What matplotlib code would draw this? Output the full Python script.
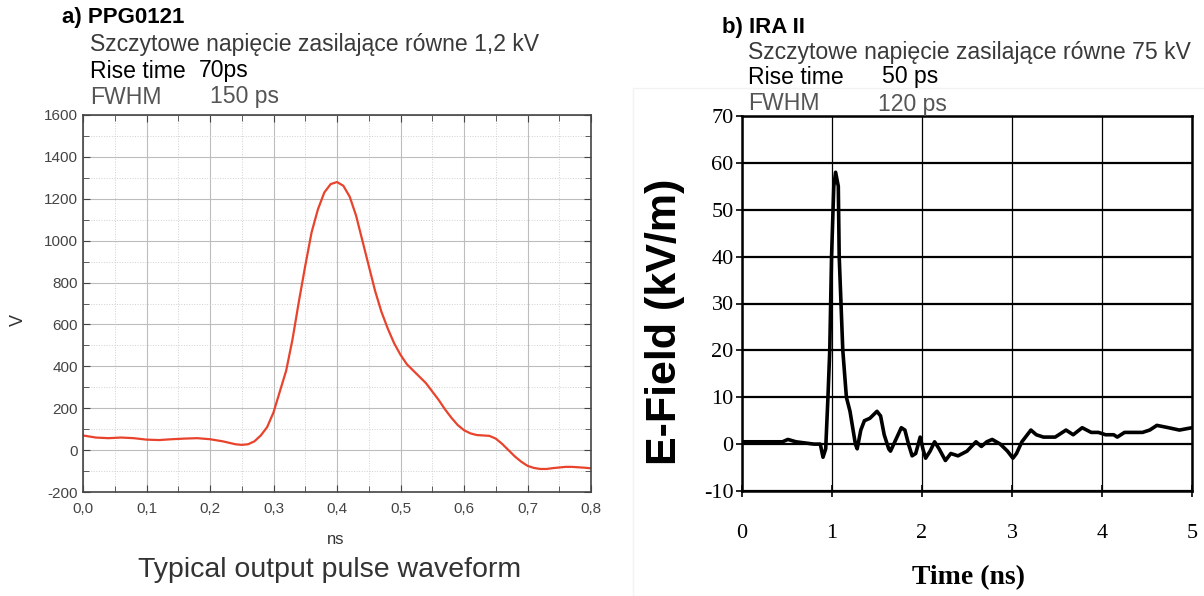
import matplotlib
matplotlib.use('Agg')
from matplotlib import pyplot as plt
from matplotlib.patches import Rectangle
from matplotlib.ticker import MultipleLocator, FuncFormatter

# a) PPG0121 - przebieg impulsu (ns, V)
ppg_t = [0.00, 0.02, 0.04, 0.06, 0.08, 0.10, 0.12, 0.14, 0.16, 0.18, 0.20, 0.22, 0.24,
         0.25, 0.26, 0.27, 0.28, 0.29, 0.30, 0.31, 0.32, 0.33, 0.34, 0.35, 0.36, 0.37,
         0.38, 0.39, 0.40, 0.41, 0.42, 0.43, 0.44, 0.45, 0.46, 0.47, 0.48, 0.49, 0.50,
         0.51, 0.52, 0.53, 0.54, 0.55, 0.56, 0.57, 0.58, 0.59, 0.60, 0.61, 0.62, 0.63,
         0.64, 0.65, 0.66, 0.67, 0.68, 0.69, 0.70, 0.71, 0.72, 0.73, 0.74, 0.75, 0.76,
         0.77, 0.78, 0.79, 0.80]
ppg_v = [70, 60, 57, 60, 57, 50, 48, 52, 55, 57, 52, 42, 28,
         25, 28, 42, 70, 110, 180, 280, 380, 530, 710, 880, 1040, 1150,
         1230, 1270, 1280, 1262, 1210, 1120, 1000, 880, 760, 660, 580, 510, 455,
         410, 380, 350, 320, 280, 240, 195, 155, 120, 95, 80, 72, 70,
         68, 55, 30, 0, -30, -55, -75, -85, -90, -90, -86, -83, -80,
         -80, -82, -84, -87]

# b) IRA II - pole E (ns, kV/m)
ira_t = [0.00, 0.20, 0.45, 0.51, 0.60, 0.80, 0.87, 0.90, 0.93, 0.955, 0.975, 0.995,
         1.02, 1.04, 1.07, 1.08, 1.10, 1.12, 1.16, 1.20, 1.26, 1.28, 1.32, 1.36, 1.42,
         1.50, 1.54, 1.58, 1.63, 1.65, 1.71, 1.77, 1.81, 1.85, 1.89, 1.93, 1.98, 2.01,
         2.04, 2.09, 2.14, 2.19, 2.26, 2.32, 2.40, 2.50, 2.60, 2.66, 2.72, 2.78, 2.87,
         2.95, 3.01, 3.05, 3.11, 3.19, 3.21, 3.27, 3.35, 3.48, 3.60, 3.68, 3.78, 3.88,
         3.96, 4.04, 4.13, 4.17, 4.25, 4.45, 4.53, 4.61, 4.74, 4.86, 5.00]
ira_e = [0.5, 0.5, 0.5, 1.0, 0.5, 0.0, 0.0, -2.8, -1.0, 10, 20, 40,
         55, 58, 55, 40, 30, 20, 10, 7, 0, -1, 3, 5, 5.5,
         7, 6, 2, -1, -1.5, 1, 3.5, 3, 0, -2.5, -2, 1.5, -1,
         -3, -1.5, 0.5, -1, -3.5, -2, -2.5, -1.5, 0.5, -0.5, 0.5, 1, 0,
         -1.5, -3, -2, 0.5, 2.5, 3, 2, 1.5, 1.5, 3, 2, 3.5, 2.5,
         2.5, 2, 2, 1.5, 2.5, 2.5, 3, 4, 3.5, 3, 3.5]

plt.rcParams['font.family'] = ['Liberation Sans', 'DejaVu Sans']
plt.rcParams['axes.unicode_minus'] = False
serif = ['Liberation Serif', 'DejaVu Serif']

fig = plt.figure(figsize=(12.04, 5.96), dpi=100)

# --- lewy wykres ---
ax1 = fig.add_axes([83 / 1204, 104 / 596, 508 / 1204, 377 / 596])
ax1.plot(ppg_t, ppg_v, color='#e8432c', lw=1.6)
ax1.set_xlim(0, 0.8)
ax1.set_ylim(-200, 1600)
ax1.xaxis.set_major_locator(MultipleLocator(0.1))
ax1.xaxis.set_minor_locator(MultipleLocator(0.05))
ax1.yaxis.set_major_locator(MultipleLocator(200))
ax1.yaxis.set_minor_locator(MultipleLocator(100))
ax1.xaxis.set_major_formatter(FuncFormatter(lambda v, p: ('%.1f' % v).replace('.', ',')))
ax1.grid(which='major', color='#bdbdbd', lw=0.8)
ax1.grid(which='minor', color='#d0d0d0', lw=0.7, ls=':')
ax1.tick_params(which='both', direction='in', top=True, right=True, color='#444444',
                labelcolor='#444444', labelsize=11)
ax1.tick_params(which='major', length=5)
ax1.tick_params(which='minor', length=4)
ax1.tick_params(axis='x', pad=7)
for s in ax1.spines.values():
    s.set_color('#444444')
    s.set_linewidth(1.2)
fig.text(336 / 1204, 1 - 540 / 596, 'ns', fontsize=12, color='#333333', ha='center', va='center')
fig.text(18 / 1204, 1 - 320 / 596, 'V', fontsize=13, color='#333333', ha='center', va='center',
         rotation=90)
fig.text(330 / 1204, 1 - 570 / 596, 'Typical output pulse waveform', fontsize=20.5,
         color='#333333', ha='center', va='center')

fig.text(62 / 1204, 1 - 18 / 596, 'a) PPG0121', fontsize=16, fontweight='bold', va='center')
fig.text(90 / 1204, 1 - 45 / 596, 'Szczytowe napięcie zasilające równe 1,2 kV', fontsize=16.6,
         color='#3a3a3a', va='center')
fig.text(90 / 1204, 1 - 71 / 596, 'Rise time', fontsize=16.6, color='black', va='center')
fig.text(199 / 1204, 1 - 71 / 596, '70ps', fontsize=16.6, color='black', va='center')
fig.text(90 / 1204, 1 - 97 / 596, 'FWHM', fontsize=16.6, color='#555555', va='center')
fig.text(210 / 1204, 1 - 97 / 596, '150 ps', fontsize=16.6, color='#555555', va='center')

# --- prawy wykres ---
fig.add_artist(Rectangle((633 / 1204, 0), 580 / 1204, 1 - 88 / 596, transform=fig.transFigure,
                         fill=False, edgecolor='#f2f2f2', lw=1))
ax2 = fig.add_axes([742 / 1204, 105 / 596, 450 / 1204, 375 / 596])
ax2.plot(ira_t, ira_e, color='black', lw=2.6)
ax2.set_xlim(0, 5)
ax2.set_ylim(-10, 70)
ax2.xaxis.set_major_locator(MultipleLocator(1))
ax2.yaxis.set_major_locator(MultipleLocator(10))
ax2.grid(axis='y', color='black', lw=1.6)
ax2.grid(axis='x', color='black', lw=0.9)
ax2.tick_params(axis='x', direction='inout', length=8, width=1.2, pad=20, labelsize=16)
ax2.tick_params(axis='y', direction='out', length=4, width=1.2, pad=2, labelsize=16)
for lab in ax2.get_xticklabels() + ax2.get_yticklabels():
    lab.set_family(serif)
for s in ax2.spines.values():
    s.set_color('black')
    s.set_linewidth(1.8)
fig.text(665 / 1204, 1 - 322 / 596, 'E-Field (kV/m)', fontsize=31, fontweight='bold',
         ha='center', va='center', rotation=90)
fig.text(968 / 1204, 1 - 578 / 596, 'Time (ns)', fontsize=20, fontweight='bold',
         family=serif, ha='center', va='center')

fig.text(722 / 1204, 1 - 27 / 596, 'b) IRA II', fontsize=16, fontweight='bold', va='center')
fig.text(748 / 1204, 1 - 52 / 596, 'Szczytowe napięcie zasilające równe 75 kV', fontsize=16.6,
         color='#3a3a3a', va='center')
fig.text(748 / 1204, 1 - 77 / 596, 'Rise time', fontsize=16.6, color='black', va='center')
fig.text(882 / 1204, 1 - 77 / 596, '50 ps', fontsize=16.6, color='black', va='center')
fig.text(748 / 1204, 1 - 104 / 596, 'FWHM', fontsize=16.6, color='#555555', va='center')
fig.text(878 / 1204, 1 - 104 / 596, '120 ps', fontsize=16.6, color='#555555', va='center')

fig.savefig('out.png', dpi=100)
